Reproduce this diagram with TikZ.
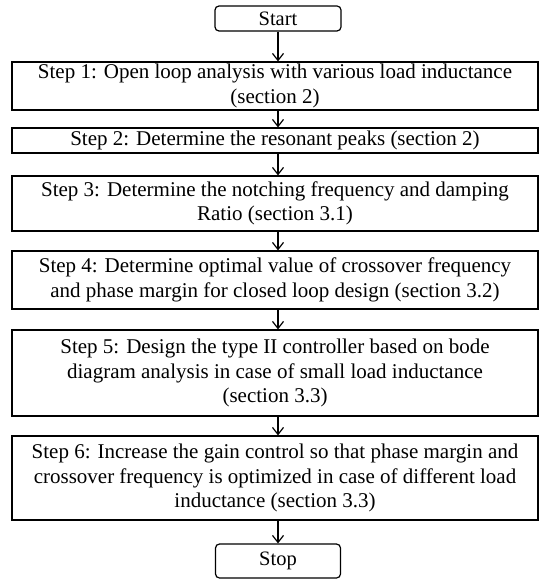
\documentclass[tikz,border=0pt]{standalone}
\usepackage{fontspec}
\setmainfont{Liberation Serif}
\usetikzlibrary{arrows.meta,positioning}
\begin{document}
\begin{tikzpicture}[x=1pt,y=1pt,
  stepbox/.style={draw=black, line width=1.2pt, minimum width=526pt, inner sep=0pt, align=center,
    font=\fontsize{21}{24.5}\selectfont},
  termbox/.style={draw=black, line width=1.2pt, rounded corners=4pt, inner sep=0pt,
    font=\fontsize{20.5}{24}\selectfont},
  flow/.style={line width=1.2pt, -{Straight Barb[length=7pt,width=11pt,line width=1.2pt]}}
]
\useasboundingbox (0,0) rectangle (539,-580);
\node[termbox, minimum width=126pt, minimum height=25pt] (start) at (278,-18.5) {Start};
\node[stepbox, minimum height=48pt] (s1) at (275,-86) {Step 1: Open loop analysis with various load inductance\\(section 2)};
\node[stepbox, minimum height=25pt] (s2) at (275,-140.5) {Step 2: Determine the resonant peaks (section 2)};
\node[stepbox, minimum height=55pt] (s3) at (275,-203.5) {Step 3: Determine the notching frequency and damping\\Ratio (section 3.1)};
\node[stepbox, minimum height=58pt] (s4) at (275,-280) {Step 4: Determine optimal value of crossover frequency\\and phase margin for closed loop design (section 3.2)};
\node[stepbox, minimum height=86pt] (s5) at (275,-373) {Step 5: Design the type II controller based on bode\\diagram analysis in case of small load inductance\\(section 3.3)};
\node[stepbox, minimum height=84pt] (s6) at (275,-478) {Step 6: Increase the gain control so that phase margin and\\crossover frequency is optimized in case of different load\\inductance (section 3.3)};
\node[termbox, minimum width=125pt, minimum height=34pt] (stop) at (278,-561) {Stop};
\draw[flow] (start.south) -- (start.south |- s1.north);
\draw[flow] (start.south |- s1.south) -- (start.south |- s2.north);
\draw[flow] (start.south |- s2.south) -- (start.south |- s3.north);
\draw[flow] (start.south |- s3.south) -- (start.south |- s4.north);
\draw[flow] (start.south |- s4.south) -- (start.south |- s5.north);
\draw[flow] (start.south |- s5.south) -- (start.south |- s6.north);
\draw[flow] (start.south |- s6.south) -- (stop.north);
\end{tikzpicture}
\end{document}
